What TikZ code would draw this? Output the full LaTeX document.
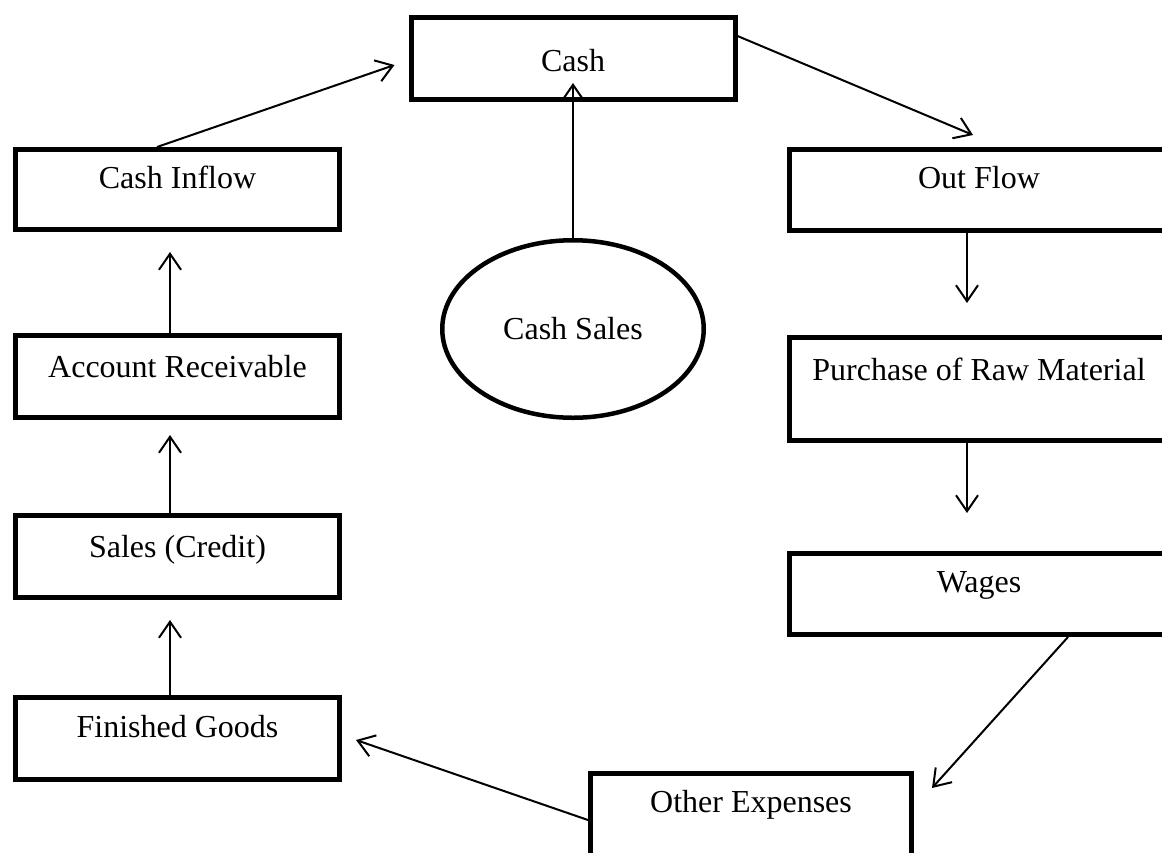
\documentclass[tikz,border=0pt]{standalone}
\usepackage{fontspec}
\setmainfont{Liberation Serif}
\usetikzlibrary{arrows.meta, shapes.geometric}

\begin{document}
\begin{tikzpicture}[x=1pt,y=-1pt,every node/.style={font=\fontsize{32}{38}\selectfont},
    blk/.style={draw,line width=5pt,inner sep=0pt,minimum width=324pt,text height=40pt,text depth=41pt,anchor=base},
    wide/.style={blk,minimum width=379pt},
    >={Straight Barb[length=16pt,width=22pt]},
    flow/.style={->,line width=2pt}]
    \useasboundingbox (0,0) rectangle (1162,852);
    \clip (0,0) rectangle (1162,852);
    % left column
    \node[blk,text height=38.5pt,text depth=41.5pt] (inflow) at (177.5,188) {Cash Inflow};
    \node[blk,text height=41.5pt,text depth=40.5pt] (acc) at (177.5,377) {Account Receivable};
    \node[blk,text height=41.5pt,text depth=40.5pt] (sales) at (177.5,557) {Sales (Credit)};
    \node[blk,text height=39.5pt,text depth=42.5pt] (fin) at (177.5,737) {Finished Goods};
    % middle
    \node[blk,text height=53.5pt,text depth=28.5pt] (cash) at (573,71) {Cash};
    \node[draw,ellipse,line width=4.5pt,inner sep=0pt,minimum width=261.5pt,minimum height=177.5pt] (csales) at (573,329) {Cash Sales};
    \node[blk,minimum width=321pt,text height=38.5pt,text depth=50pt] (other) at (751,812) {Other Expenses};
    % right column
    \node[wide,text height=38.5pt,text depth=42.5pt] (outflow) at (979,188) {Out Flow};
    \node[wide,text height=42.5pt,text depth=60.5pt] (raw) at (979,380) {Purchase of Raw Material};
    \node[wide,text height=38.5pt,text depth=42.5pt] (wages) at (979,592) {Wages};

    \draw[flow] ([shift={(-20.5,0)}]inflow.north) -- ([shift={(-14,6.5)}]cash.west);
    \draw[flow] ([shift={(0,-22.5)}]cash.east) -- ([shift={(-6,-12)}]outflow.north);
    \draw[flow] (csales.north) -- ([shift={(0,-19)}]cash.south);
    \draw[flow] ([shift={(-12,0)}]outflow.south) -- ([shift={(-12,-32)}]raw.north);
    \draw[flow] ([shift={(-12,0)}]raw.south) -- ([shift={(-12,-38)}]wages.north);
    \draw[flow] ([shift={(89,0)}]wages.south) -- ([shift={(18,17)}]other.north east);
    \draw[flow] ([shift={(0,49)}]other.north west) -- ([shift={(14,1.5)}]fin.east);
    \foreach \a/\b/\g in {fin/sales/20, sales/acc/15, acc/inflow/20} {
        \draw[flow] ([shift={(-7.5,0)}]\a.north) -- ([shift={(-7.5,\g)}]\b.south);
    }
\end{tikzpicture}
\end{document}
